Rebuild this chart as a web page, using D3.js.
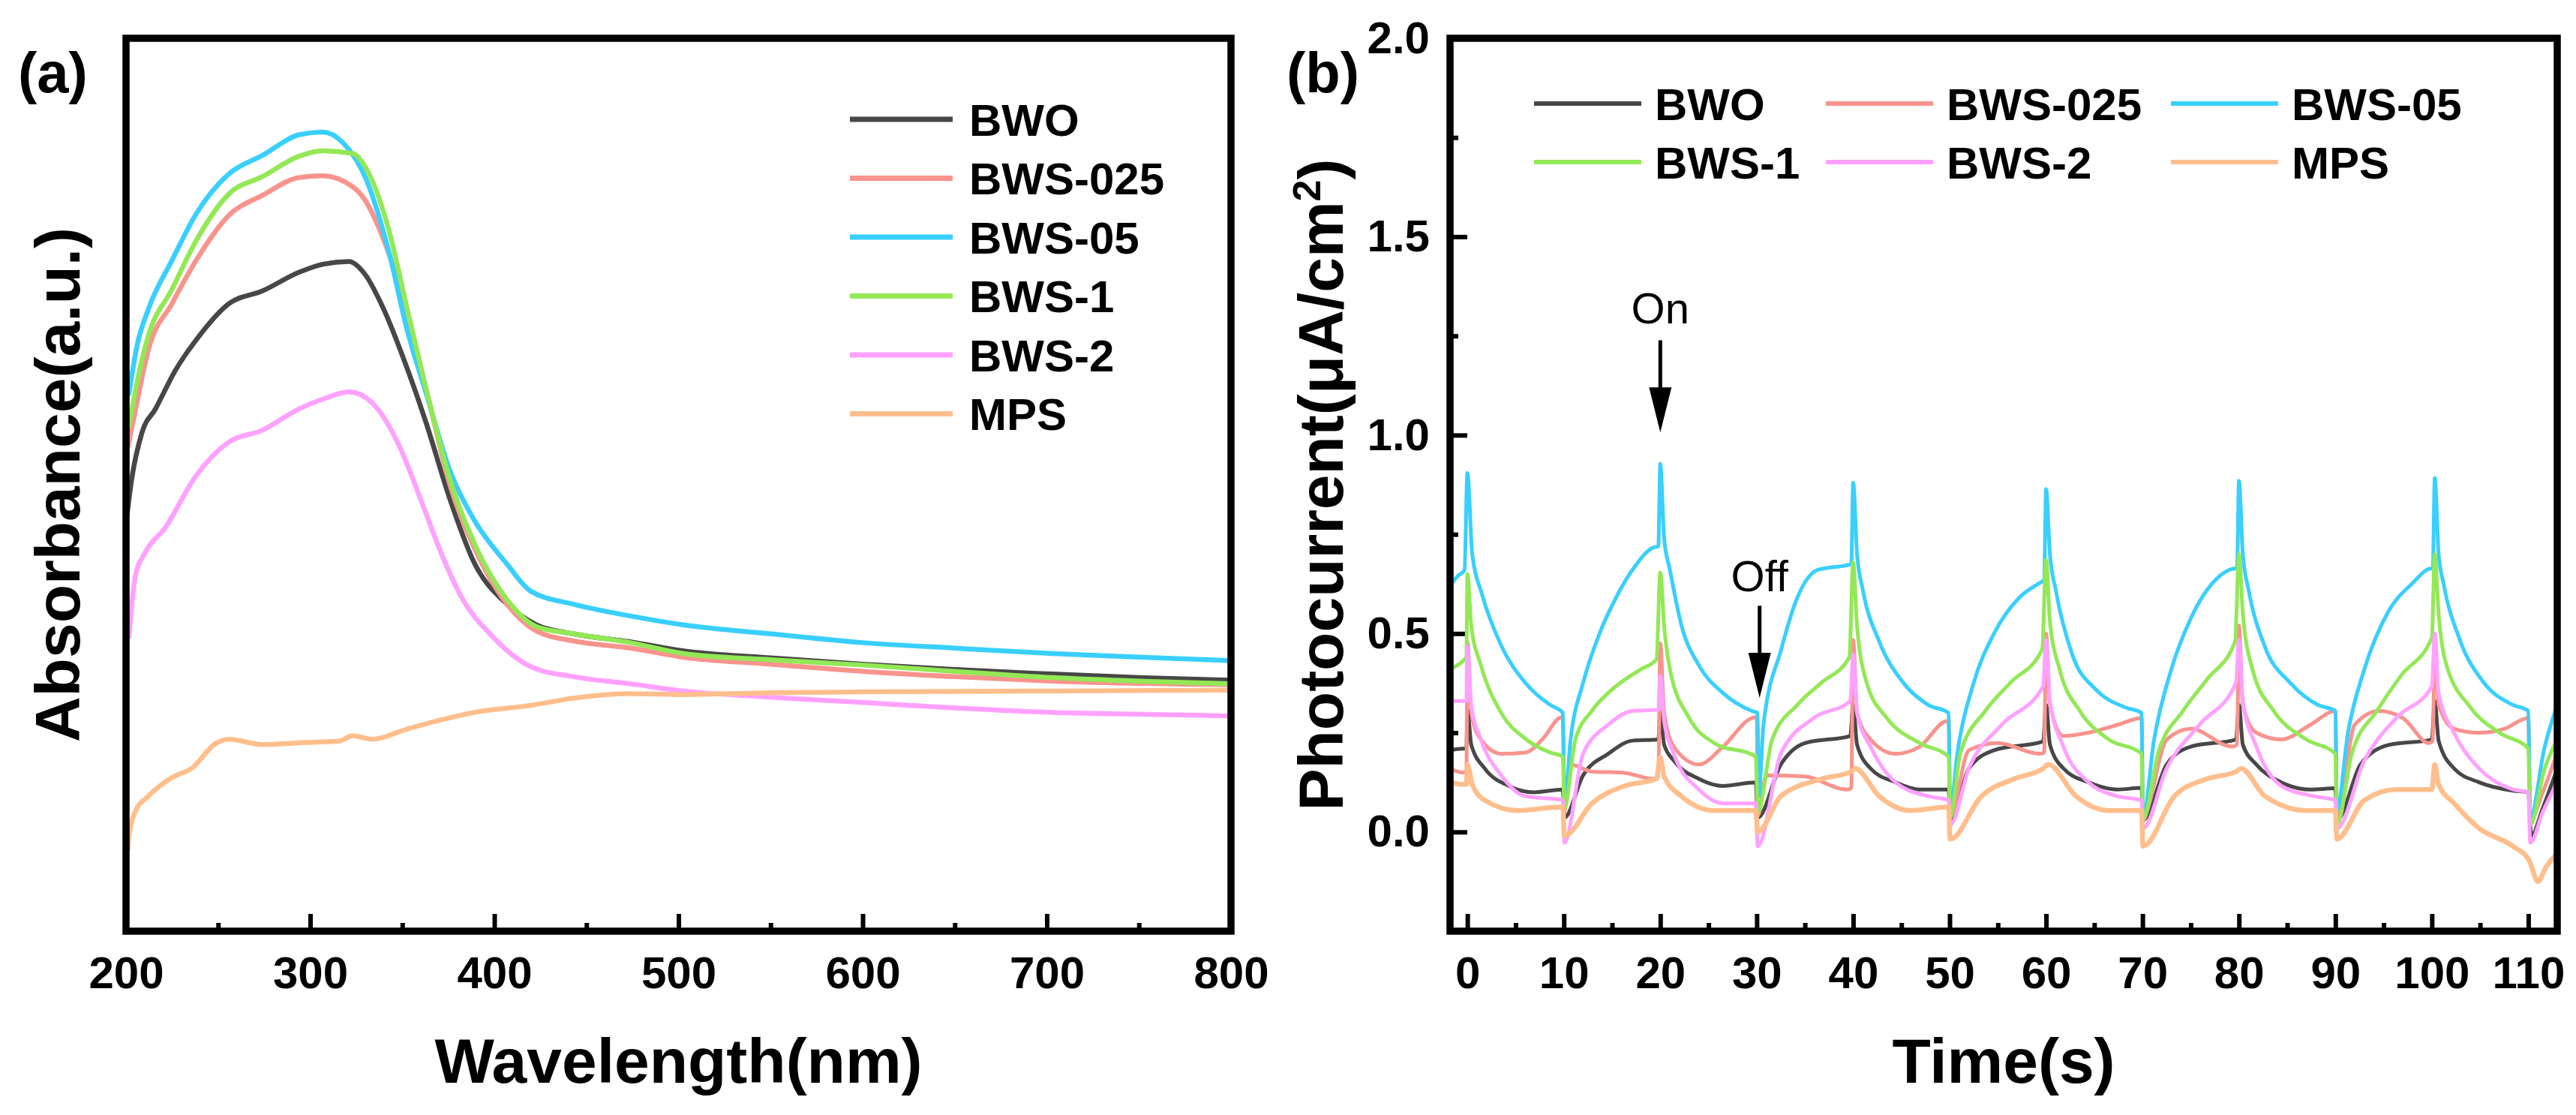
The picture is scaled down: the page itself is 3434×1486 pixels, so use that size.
<!DOCTYPE html>
<html>
<head>
<meta charset="utf-8">
<script src="https://cdn.jsdelivr.net/npm/d3@7"></script>
<style>
  html, body { margin: 0; padding: 0; background: #fff; }
  svg text { font-family: "Liberation Sans", Arial, sans-serif; fill: #000; }
</style>
</head>
<body>
<div id="chart"></div>
<script>
(function() {
    'use strict';

    var seriesNames = ["BWO", "BWS-025", "BWS-05", "BWS-1", "BWS-2", "MPS"];
    var seriesColors = ["#474747", "#f9938d", "#39cfff", "#93e856", "#ffa1ff", "#ffbe8c"];

    // (a) absorbance spectra: [wavelength nm, absorbance a.u.]
    var absBWO = [[200.5,0.465],[203,0.505],[208.6,0.558],[216,0.585],[226.8,0.628],[239.5,0.666],[256,0.703],[274,0.717],[294,0.738],[307,0.747],[321,0.75],[330,0.735],[339.6,0.698],[352,0.634],[363,0.569],[376,0.483],[389,0.413],[407,0.366],[423,0.343],[443,0.333],[474,0.324],[502,0.314],[550,0.306],[600,0.299],[650,0.293],[703,0.288],[750,0.284],[800,0.281]];
    var absBWS025 = [[201,0.542],[206.8,0.601],[212,0.65],[225,0.703],[238,0.751],[256,0.802],[274,0.824],[294,0.844],[307,0.846],[318,0.84],[330,0.818],[339.6,0.776],[352,0.698],[363,0.607],[376,0.499],[389,0.43],[407,0.366],[423,0.336],[443,0.325],[474,0.317],[502,0.307],[550,0.299],[600,0.291],[650,0.285],[703,0.28],[800,0.276]];
    var absBWS05 = [[201.5,0.6],[205.9,0.655],[212.2,0.697],[224.9,0.751],[237.7,0.802],[255.8,0.848],[274.2,0.869],[294.1,0.892],[306.7,0.895],[317.8,0.883],[330.4,0.842],[343.2,0.757],[352.3,0.676],[363.2,0.601],[376,0.515],[388.6,0.462],[406.9,0.411],[419.6,0.381],[443.2,0.366],[473.8,0.353],[502.5,0.343],[550,0.333],[600.6,0.323],[650,0.317],[703,0.311],[750,0.307],[800,0.303]];
    var absBWS1 = [[201.5,0.564],[206.8,0.623],[212,0.666],[225,0.719],[238,0.773],[256,0.826],[274,0.845],[294,0.868],[307,0.874],[323,0.871],[332,0.848],[343,0.783],[352,0.703],[363,0.607],[376,0.505],[389,0.435],[407,0.371],[423,0.341],[443,0.333],[474,0.323],[502.5,0.311],[550,0.304],[600.6,0.298],[650,0.291],[703,0.284],[750,0.28],[800,0.277]];
    var absBWS2 = [[201.5,0.328],[205,0.397],[210.4,0.424],[221,0.451],[238,0.51],[256,0.548],[274,0.561],[294,0.585],[307,0.596],[321,0.604],[334,0.591],[348.7,0.542],[361,0.478],[372,0.419],[383,0.371],[397.6,0.333],[420,0.296],[443,0.285],[474,0.277],[502.5,0.269],[550,0.262],[600.6,0.256],[650,0.25],[703,0.245],[750,0.243],[800,0.241]];
    var absMPS = [[201,0.09],[201.5,0.105],[205,0.134],[212,0.151],[225,0.172],[236,0.183],[248.5,0.21],[256,0.215],[274,0.209],[294,0.211],[316,0.213],[323,0.219],[334,0.215],[352,0.226],[370,0.236],[389,0.245],[420,0.253],[443,0.261],[474,0.266],[502.5,0.265],[550,0.267],[600.6,0.268],[703,0.269],[800,0.27]];
    var wavelengthTicks = [200, 300, 400, 500, 600, 700, 800];
    var wavelengthMinor = [250, 350, 450, 550, 650, 750];

    // (b) transient photocurrent: [time s, current uA/cm2]
    var pcBWO = [[-1.8,0.206],[-0.5,0.21],[-0.1,0.21],[0,0.31],[0.4,0.22],[1.8,0.16],[4.3,0.116],[6.9,0.1],[9.9,0.107],[10.05,0.036],[12,0.143],[14.6,0.197],[17.1,0.23],[19.8,0.233],[20,0.3],[20.4,0.22],[21.4,0.18],[24,0.134],[26.5,0.116],[29.9,0.125],[30.1,0.036],[32.5,0.17],[35,0.224],[39.7,0.242],[40,0.32],[40.4,0.22],[41.8,0.16],[44.4,0.125],[46.9,0.107],[49.9,0.107],[50.05,0.027],[52,0.16],[54.6,0.206],[59.7,0.228],[60,0.32],[60.4,0.22],[61.8,0.16],[64.4,0.125],[67.4,0.107],[69.9,0.111],[70.05,0.03],[72.5,0.17],[75,0.215],[79.7,0.233],[80,0.32],[80.4,0.22],[81.8,0.17],[84.4,0.125],[87.4,0.107],[90,0.11],[90.15,0.03],[92.6,0.17],[95.5,0.219],[100,0.233],[100.3,0.33],[100.7,0.23],[102.3,0.16],[104.9,0.125],[108.4,0.104],[110,0.1],[110.3,-0.01],[111.5,0.06],[113,0.16]];
    var pcBWS025 = [[-1.8,0.16],[-0.5,0.15],[-0.1,0.15],[0,0.48],[0.4,0.3],[1.4,0.233],[3.5,0.197],[6,0.2],[8,0.24],[9.5,0.287],[9.9,0.29],[10.05,0.05],[10.6,0.17],[13,0.152],[16,0.15],[19.3,0.134],[19.8,0.14],[20,0.475],[20.4,0.3],[21.4,0.215],[24,0.17],[26.5,0.215],[29.5,0.287],[30,0.29],[30.1,0.04],[31,0.143],[35,0.14],[39.3,0.107],[39.8,0.11],[40,0.484],[40.4,0.3],[41.8,0.233],[44.4,0.197],[46.9,0.215],[49.5,0.278],[49.9,0.28],[50.05,0.04],[52,0.206],[55,0.224],[59.3,0.197],[59.8,0.2],[60,0.5],[60.4,0.32],[61.8,0.242],[64.4,0.25],[67.4,0.27],[69.9,0.287],[70.05,0.04],[72.5,0.233],[75,0.26],[79.3,0.215],[79.8,0.22],[80,0.52],[80.4,0.32],[81.8,0.25],[84.4,0.233],[87.4,0.27],[90,0.305],[90.15,0.04],[92,0.27],[94.5,0.305],[97,0.287],[99.7,0.224],[100.1,0.23],[100.3,0.5],[100.7,0.32],[102.3,0.26],[104.9,0.25],[107.5,0.26],[110,0.287],[110.2,0.03],[111.5,0.1],[113,0.2]];
    var pcBWS05 = [[-1.8,0.62],[-1,0.645],[-0.3,0.66],[0,0.905],[0.5,0.7],[1.5,0.6],[3.5,0.47],[6,0.376],[8.6,0.32],[9.9,0.3],[10.05,0.07],[10.7,0.233],[12,0.376],[13.7,0.5],[15.4,0.59],[17.1,0.66],[19.3,0.717],[19.8,0.72],[20,0.928],[20.4,0.74],[21,0.66],[22.2,0.52],[24,0.42],[26.5,0.35],[29.5,0.305],[30.1,0.3],[30.2,0.09],[30.7,0.27],[32.5,0.457],[34.2,0.59],[36.3,0.66],[39.3,0.672],[39.8,0.675],[40,0.88],[40.4,0.7],[41,0.61],[42.7,0.48],[45.2,0.376],[47.8,0.32],[49.9,0.3],[50.05,0.05],[50.8,0.197],[52.5,0.376],[54.6,0.5],[57.2,0.59],[59.3,0.627],[59.8,0.635],[60,0.864],[60.4,0.7],[61,0.61],[62.7,0.448],[65.2,0.358],[68.2,0.314],[69.9,0.3],[70.05,0.036],[71.2,0.233],[72.9,0.403],[75,0.538],[77.6,0.636],[79.3,0.663],[79.8,0.665],[80,0.885],[80.4,0.7],[81,0.61],[82.7,0.466],[85.3,0.376],[88.2,0.32],[90,0.305],[90.15,0.054],[91.3,0.25],[93,0.41],[95.5,0.556],[98,0.627],[99.7,0.663],[100.1,0.665],[100.3,0.892],[100.7,0.7],[101.2,0.627],[102.9,0.484],[105.4,0.376],[108.4,0.32],[110,0.305],[110.2,0.036],[111.7,0.215],[113,0.32]];
    var pcBWS1 = [[-1.8,0.41],[-0.5,0.43],[-0.1,0.44],[0,0.65],[0.4,0.52],[1.4,0.42],[3.5,0.3],[6,0.235],[8.6,0.2],[9.9,0.19],[10.05,0.06],[11.2,0.233],[12.9,0.305],[15.4,0.367],[18,0.41],[19.6,0.435],[20,0.654],[20.4,0.52],[21,0.41],[23,0.287],[25.6,0.224],[29.9,0.19],[30.1,0.05],[31.6,0.233],[34.2,0.32],[36.7,0.376],[39.6,0.44],[40,0.68],[40.4,0.52],[41.4,0.376],[43.5,0.287],[46.9,0.224],[49.9,0.19],[50.05,0.036],[51.1,0.197],[53.7,0.305],[56.3,0.376],[59.6,0.46],[60,0.686],[60.4,0.53],[61.4,0.41],[63.5,0.305],[66.5,0.233],[69.9,0.197],[70.05,0.03],[71.6,0.197],[74.2,0.305],[76.7,0.385],[79.6,0.48],[80,0.7],[80.4,0.55],[81.4,0.41],[83.6,0.305],[87,0.233],[90,0.197],[90.15,0.018],[91.7,0.197],[94.3,0.305],[96.8,0.394],[100,0.49],[100.3,0.7],[100.7,0.55],[101.4,0.43],[104,0.314],[107,0.25],[110,0.21],[110.2,0.018],[111.7,0.16],[113,0.233]];
    var pcBWS2 = [[-1.8,0.33],[-0.5,0.33],[-0.1,0.33],[0,0.466],[0.4,0.32],[1.4,0.233],[3.5,0.143],[6,0.09],[9.9,0.08],[10.05,-0.027],[12,0.197],[14.6,0.27],[17.1,0.305],[19.8,0.308],[20,0.394],[20.4,0.28],[21.4,0.197],[24,0.107],[26.5,0.072],[29.9,0.072],[30.1,-0.036],[32.5,0.197],[35.9,0.287],[39.7,0.33],[40,0.448],[40.4,0.3],[41.8,0.215],[44.4,0.125],[47.8,0.09],[49.9,0.08],[50.05,0.018],[52,0.16],[55.4,0.27],[59.7,0.367],[60,0.484],[60.4,0.33],[61.8,0.215],[64.4,0.125],[67.4,0.09],[69.9,0.08],[70.05,0.009],[72.5,0.16],[75.9,0.27],[79.7,0.376],[80,0.484],[80.4,0.33],[81.8,0.215],[84.4,0.116],[87.8,0.09],[90,0.08],[90.15,0.009],[93,0.18],[96.3,0.287],[100,0.367],[100.3,0.5],[100.7,0.35],[102.3,0.25],[104.9,0.16],[108.4,0.107],[110,0.1],[110.2,-0.027],[111.5,0.05],[113,0.125]];
    var pcMPS = [[-1.8,0.125],[-0.5,0.12],[-0.1,0.12],[0,0.17],[0.5,0.12],[1.8,0.08],[5.2,0.054],[9.9,0.063],[10.05,-0.01],[12.9,0.072],[16.3,0.116],[19.6,0.134],[20,0.188],[20.4,0.14],[22.2,0.09],[25.6,0.054],[29.9,0.054],[30.1,0],[32.5,0.09],[36.8,0.134],[39.8,0.152],[40.2,0.16],[42.7,0.09],[46,0.054],[49.9,0.063],[50.05,-0.018],[53.3,0.09],[56.7,0.134],[59.7,0.16],[60.2,0.17],[63.1,0.09],[66.5,0.054],[69.9,0.054],[70.05,-0.036],[73.3,0.09],[76.7,0.134],[79.7,0.152],[80.2,0.16],[82.7,0.09],[87,0.054],[90,0.054],[90.15,-0.018],[93,0.08],[96.3,0.107],[100,0.107],[100.3,0.17],[100.7,0.12],[102.3,0.072],[104.9,0.009],[108.4,-0.036],[110.1,-0.072],[111,-0.125],[111.8,-0.09],[113,-0.054]];
    var timeTicks = [0, 10, 20, 30, 40, 50, 60, 70, 80, 90, 100, 110];
    var timeMinor = [5, 15, 25, 35, 45, 55, 65, 75, 85, 95, 105];
    var currentTicks = [0.0, 0.5, 1.0, 1.5, 2.0];
    var currentMinor = [-0.25, 0.25, 0.75, 1.25, 1.75];

    // light on/off marks: [label, time s, text level, arrow top, arrow tip]
    var switchNotes = [["On", 20, 1.282, 1.239, 1.007], ["Off", 30.3, 0.606, 0.570, 0.338]];

    var absSeries = [absBWO, absBWS025, absBWS05, absBWS1, absBWS2, absMPS];
    var pcSeries = [pcBWO, pcBWS025, pcBWS05, pcBWS1, pcBWS2, pcMPS];
    var pcWidths = [5, 5, 5, 5, 5, 6.5];

    var W = 3434, H = 1486;
    var top = 51, bottom = 1241;
    var FONT = 60;

    var svg = d3.select("#chart").append("svg")
        .attr("width", W)
        .attr("height", H)
        .style("display", "block")
        .style("background", "#fff");

    function addClip(id, x0, x1) {
        svg.append("clipPath").attr("id", id)
            .append("rect")
            .attr("x", x0).attr("y", top)
            .attr("width", x1 - x0).attr("height", bottom - top);
    }

    function styleAxis(g) {
        g.select(".domain").remove();
        g.selectAll(".tick line").attr("stroke", "#000").attr("stroke-width", 6);
        g.selectAll(".tick text")
            .style("font-size", FONT + "px")
            .style("font-weight", "bold")
            .attr("fill", "#000");
    }

    function frame(x0, x1) {
        svg.append("rect")
            .attr("x", x0).attr("y", top)
            .attr("width", x1 - x0).attr("height", bottom - top)
            .attr("fill", "none")
            .attr("stroke", "#000")
            .attr("stroke-width", 9.5);
    }

    // ---------- panel (a) ----------
    var ax0 = 168, ax1 = 1641;
    var xa = d3.scaleLinear().domain([200, 800]).range([ax0, ax1]);
    var ya = d3.scaleLinear().domain([0, 1]).range([bottom, top]);

    addClip("clipA", ax0, ax1);

    svg.append("g")
        .attr("transform", "translate(0," + bottom + ")")
        .call(d3.axisBottom(xa).tickValues(wavelengthMinor).tickSize(-11).tickFormat(""))
        .call(styleAxis);

    svg.append("g")
        .attr("transform", "translate(0," + bottom + ")")
        .call(d3.axisBottom(xa).tickValues(wavelengthTicks).tickSize(-23).tickPadding(33).tickFormat(d3.format("d")))
        .call(styleAxis);

    var lineA = d3.line()
        .x(d => xa(d[0]))
        .y(d => ya(d[1]))
        .curve(d3.curveMonotoneX);

    svg.append("g").attr("clip-path", "url(#clipA)")
        .selectAll("path")
        .data(absSeries)
        .enter().append("path")
        .attr("d", lineA)
        .attr("fill", "none")
        .attr("stroke", (d, i) => seriesColors[i])
        .attr("stroke-width", 6.5)
        .attr("stroke-linejoin", "round");

    frame(ax0, ax1);

    var legA = svg.selectAll(".legA")
        .data(seriesNames)
        .enter().append("g")
        .attr("class", "legA")
        .attr("transform", (d, i) => "translate(1133," + (159 + i * 78.5) + ")");
    legA.append("line")
        .attr("x1", 0).attr("x2", 137)
        .attr("stroke", (d, i) => seriesColors[i])
        .attr("stroke-width", 7);
    legA.append("text")
        .attr("x", 159)
        .attr("dy", "0.36em")
        .style("font-size", FONT + "px")
        .style("font-weight", "bold")
        .text(d => d);

    svg.append("text")
        .attr("x", (ax0 + ax1) / 2)
        .attr("y", 1443)
        .attr("text-anchor", "middle")
        .style("font-size", "84px")
        .style("font-weight", "bold")
        .text("Wavelength(nm)");

    svg.append("text")
        .attr("transform", "translate(106," + ((top + bottom) / 2) + ") rotate(-90)")
        .attr("text-anchor", "middle")
        .style("font-size", "84px")
        .style("font-weight", "bold")
        .text("Absorbance(a.u.)");

    svg.append("text")
        .attr("x", 24).attr("y", 123)
        .style("font-size", "76px")
        .style("font-weight", "bold")
        .text("(a)");

    // ---------- panel (b) ----------
    var bx0 = 1933, bx1 = 3409;
    var xb = d3.scaleLinear().domain([-1.8, 113]).range([bx0, bx1]);
    var yb = d3.scaleLinear().domain([-0.25, 2.0]).range([bottom, top]);

    addClip("clipB", bx0, bx1);

    svg.append("g")
        .attr("transform", "translate(0," + bottom + ")")
        .call(d3.axisBottom(xb).tickValues(timeMinor).tickSize(-11).tickFormat(""))
        .call(styleAxis);
    svg.append("g")
        .attr("transform", "translate(0," + bottom + ")")
        .call(d3.axisBottom(xb).tickValues(timeTicks).tickSize(-23).tickPadding(33).tickFormat(d3.format("d")))
        .call(styleAxis);

    svg.append("g")
        .attr("transform", "translate(" + bx0 + ",0)")
        .call(d3.axisLeft(yb).tickValues(currentMinor).tickSize(-11).tickFormat(""))
        .call(styleAxis);
    svg.append("g")
        .attr("transform", "translate(" + bx0 + ",0)")
        .call(d3.axisLeft(yb).tickValues(currentTicks).tickSize(-23).tickPadding(27).tickFormat(d3.format(".1f")))
        .call(styleAxis);

    var lineB = d3.line()
        .x(d => xb(d[0]))
        .y(d => yb(d[1]))
        .curve(d3.curveMonotoneX);

    svg.append("g").attr("clip-path", "url(#clipB)")
        .selectAll("path")
        .data(pcSeries)
        .enter().append("path")
        .attr("d", lineB)
        .attr("fill", "none")
        .attr("stroke", (d, i) => seriesColors[i])
        .attr("stroke-width", (d, i) => pcWidths[i])
        .attr("stroke-linejoin", "round");

    frame(bx0, bx1);

    var legColX = [2045, 2434, 2894];
    var legB = svg.selectAll(".legB")
        .data(seriesNames)
        .enter().append("g")
        .attr("class", "legB")
        .attr("transform", (d, i) => "translate(" + legColX[i % 3] + "," + (138 + Math.floor(i / 3) * 78) + ")");
    legB.append("line")
        .attr("x1", 0).attr("x2", 143)
        .attr("stroke", (d, i) => seriesColors[i])
        .attr("stroke-width", 6);
    legB.append("text")
        .attr("x", 161)
        .attr("dy", "0.36em")
        .style("font-size", FONT + "px")
        .style("font-weight", "bold")
        .text(d => d);

    // on / off arrows
    var notes = svg.selectAll(".note")
        .data(switchNotes)
        .enter().append("g")
        .attr("class", "note");
    notes.append("text")
        .attr("x", d => xb(d[1]))
        .attr("y", d => yb(d[2]))
        .attr("text-anchor", "middle")
        .style("font-size", "58px")
        .text(d => d[0]);
    notes.append("line")
        .attr("x1", d => xb(d[1])).attr("x2", d => xb(d[1]))
        .attr("y1", d => yb(d[3])).attr("y2", d => yb(d[4]) - 40)
        .attr("stroke", "#000")
        .attr("stroke-width", 5);
    notes.append("path")
        .attr("d", function(d) {
            var x = xb(d[1]), tip = yb(d[4]);
            return "M" + (x - 15) + "," + (tip - 60) + "L" + (x + 15) + "," + (tip - 60) + "L" + x + "," + tip + "Z";
        })
        .attr("fill", "#000");

    svg.append("text")
        .attr("x", (bx0 + bx1) / 2)
        .attr("y", 1443)
        .attr("text-anchor", "middle")
        .style("font-size", "84px")
        .style("font-weight", "bold")
        .text("Time(s)");

    var yt = svg.append("text")
        .attr("transform", "translate(1790," + ((top + bottom) / 2) + ") rotate(-90)")
        .attr("text-anchor", "middle")
        .style("font-size", "84px")
        .style("font-weight", "bold");
    yt.append("tspan").text("Photocurrent(\u03bcA/cm");
    yt.append("tspan").attr("dy", -30).style("font-size", "52px").text("2");
    yt.append("tspan").attr("dy", 30).text(")");

    svg.append("text")
        .attr("x", 1715).attr("y", 123)
        .style("font-size", "76px")
        .style("font-weight", "bold")
        .text("(b)");
})();
</script>
</body>
</html>
